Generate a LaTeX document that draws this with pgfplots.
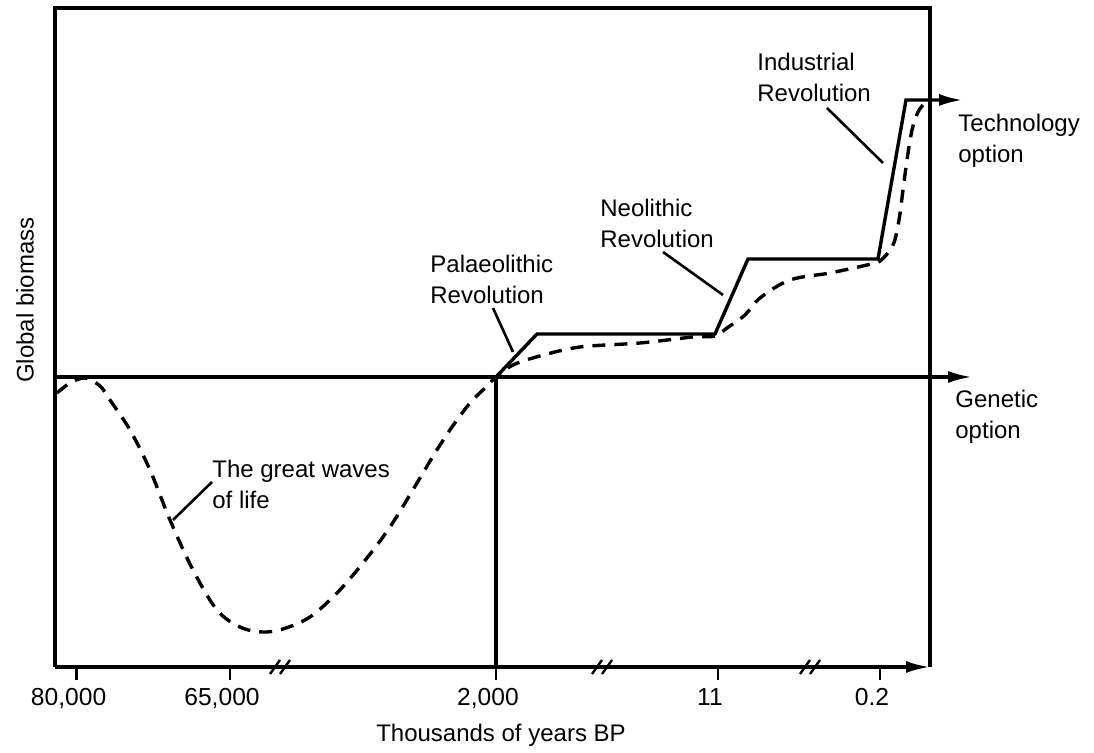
\documentclass[border=0pt]{standalone}
\usepackage{pgfplots}
\pgfplotsset{compat=1.18}
\usepackage{fontspec}
\setmainfont{Liberation Sans}
\usetikzlibrary{arrows.meta}
\begin{document}
\fontsize{12}{15.5}\selectfont
\begin{tikzpicture}
\begin{axis}[
  scale only axis, width=437.5pt, height=329.5pt,
  xmin=55, xmax=930, ymin=0, ymax=659,
  clip=false,
  axis line style={draw=none},
  xtick={76.6,230,496,718,880},
  xticklabels={{80,000},{65,000},{2,000},{11},{0.2}},
  xtick pos=left,
  ytick=\empty,
  tick align=outside,
  major tick length=6.5pt,
  every tick/.style={black, line width=1.3pt},
  xticklabel style={font=\fontsize{12.3}{14}\selectfont, xshift=-4pt},
  /pgf/number format/assume math mode=true,
]
% frame
\draw[line width=1.6pt] (axis cs:55,0) -- (axis cs:55,659) -- (axis cs:930,659) -- (axis cs:930,0);
\draw[line width=1.6pt,-{Latex[length=12pt,width=6pt]}] (axis cs:55,0) -- (axis cs:930,0);
% genetic option line
\addplot[line width=1.6pt,-{Latex[length=12pt,width=6pt]}] coordinates {(55,290) (972,290)};
% vertical at 2,000
\addplot[line width=1.6pt] coordinates {(496,0) (496,290)};
% technology (solid)
\addplot[line width=1.7pt,-{Latex[length=12pt,width=6pt]}] coordinates {
 (496,290) (537,333) (715,333) (748,408) (878,408) (906,567) (963,567)};
% dashed biomass curve
\addplot[line width=1.7pt, dash pattern=on 6.5pt off 4.5pt, smooth, tension=0.55] coordinates {
 (57,274) (70,284) (85,289) (100,281) (110,267) (130,237) (150,197) (170,147)
 (193,97) (217,57) (240,40) (262,35) (283,38) (310,50) (337,74) (363,104)
 (390,140) (417,184) (435,214) (452,240) (470,264) (485,279) (496,290) (513,302)
 (540,311) (580,320) (640,324) (693,330) (715,331) (727,339) (745,352)
 (760,369) (790,387) (830,394) (867,402) (880,406) (893,422) (899,447)
 (903,477) (907,507) (912,537) (918,555) (924,563)};
% break marks
\pgfplotsinvokeforeach{280,602,810}{
  \draw[line width=1.2pt] (axis cs:#1-10,-7) -- (axis cs:#1,7);
  \draw[line width=1.2pt] (axis cs:#1,-7) -- (axis cs:#1+10,7);
}
% annotation leader lines
\draw[line width=1.3pt] (axis cs:173,147) -- (axis cs:212,185);
\draw[line width=1.3pt] (axis cs:493,359) -- (axis cs:513,315);
\draw[line width=1.3pt] (axis cs:663,415) -- (axis cs:723,372);
\draw[line width=1.3pt] (axis cs:827,559) -- (axis cs:883,504);
% texts
\node[anchor=west, align=left, inner sep=0pt] at (axis cs:757,589.5) {Industrial\\Revolution};
\node[anchor=west, align=left, inner sep=0pt] at (axis cs:600,444) {Neolithic\\Revolution};
\node[anchor=west, align=left, inner sep=0pt] at (axis cs:430,388) {Palaeolithic\\Revolution};
\node[anchor=west, align=left, inner sep=0pt] at (axis cs:958,526) {Technology\\option};
\node[anchor=west, align=left, inner sep=0pt] at (axis cs:955,250) {Genetic\\option};
\node[anchor=west, align=left, inner sep=0pt] at (axis cs:212,183) {The great waves\\of life};
\node[rotate=90, inner sep=0pt] at (axis cs:25,367) {Global biomass};
\node[inner sep=0pt] at (axis cs:501,-68) {Thousands of years BP};
\coordinate (bl) at (axis cs:0,-86);
\coordinate (tr) at (axis cs:1094,667);
\end{axis}
\pgfresetboundingbox
\useasboundingbox (bl) rectangle (tr);
\end{tikzpicture}
\end{document}
